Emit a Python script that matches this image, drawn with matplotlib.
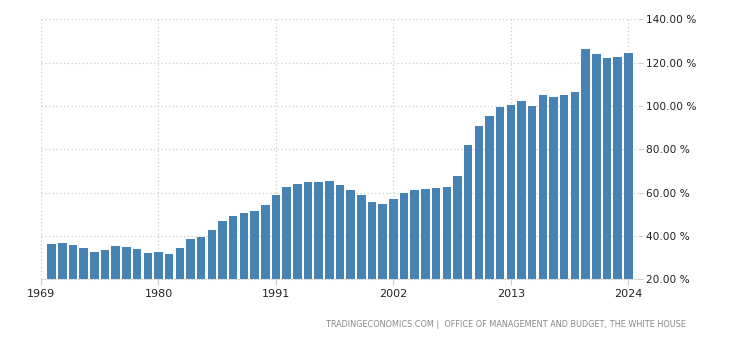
import matplotlib
matplotlib.use('Agg')
import matplotlib.pyplot as plt

# debt to GDP, percent, 1970 - 2024
years = list(range(1970, 2025))
debt_pct = [36.3, 36.8, 35.8, 34.4, 32.6, 33.5, 35.4, 34.9, 34.0, 32.1,
            32.6, 31.7, 34.4, 38.6, 39.5, 42.8, 46.9, 49.2, 50.6, 51.5,
            54.3, 58.9, 62.6, 64.0, 64.9, 64.9, 65.4, 63.5, 61.2, 58.9,
            55.7, 54.8, 57.1, 59.9, 61.2, 61.7, 62.1, 62.6, 67.7, 82.0,
            90.8, 95.4, 99.5, 100.5, 102.3, 100.0, 105.1, 104.2, 105.1, 106.5,
            126.3, 124.0, 122.2, 122.6, 124.5]

xticks = [1969, 1980, 1991, 2002, 2013, 2024]
yticks = [20, 40, 60, 80, 100, 120, 140]

fig = plt.figure(figsize=(7.3, 3.4), dpi=100)
ax = fig.add_axes([0.0562, 0.1785, 0.8191, 0.7647])

ax.bar(years, debt_pct, width=0.8, color='#4682b4', zorder=2)

ax.set_xlim(1969, 2025)
ax.set_ylim(20, 140)
ax.set_xticks(xticks)
ax.set_xticklabels([str(x) for x in xticks])
ax.set_yticks(yticks)
ax.set_yticklabels(['%.2f %%' % y for y in yticks])
ax.yaxis.tick_right()

ax.grid(True, color='#cccccc', linestyle=(0, (1, 2)), linewidth=0.9, zorder=0)
for s in ['top', 'right', 'left']:
    ax.spines[s].set_visible(False)
ax.spines['bottom'].set_color('#cccccc')
ax.spines['bottom'].set_linestyle((0, (1, 2)))

ax.tick_params(axis='x', length=4, color='#cccccc', pad=3, labelsize=8, labelcolor='#222222')
ax.tick_params(axis='y', length=3, color='#cccccc', pad=2, labelsize=7.6, labelcolor='#222222')

fig.text(0.94, 0.045, 'TRADINGECONOMICS.COM |  OFFICE OF MANAGEMENT AND BUDGET, THE WHITE HOUSE',
         ha='right', va='center', fontsize=5.9, color='#888888')

fig.savefig('out.png', dpi=100)
